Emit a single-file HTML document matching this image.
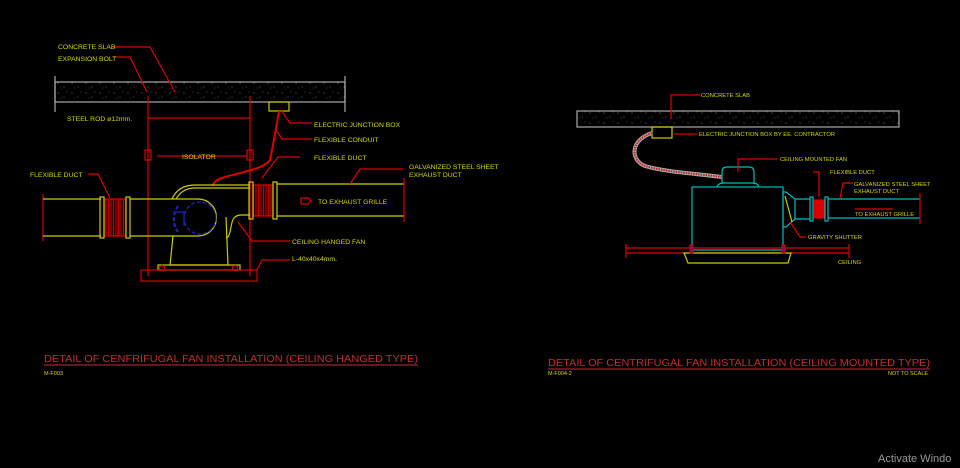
<!DOCTYPE html>
<html><head><meta charset="utf-8"><style>
html,body{margin:0;padding:0;background:#000;}
svg{display:block}
text{font-family:"Liberation Sans",sans-serif;}
</style></head><body>
<svg width="960" height="468" viewBox="0 0 960 468" xmlns="http://www.w3.org/2000/svg">
<defs>
<pattern id="conc" width="14" height="10" patternUnits="userSpaceOnUse">
<rect width="14" height="10" fill="#000"/>
<circle cx="2" cy="3" r="0.5" fill="#aaa"/><circle cx="8" cy="7" r="0.5" fill="#888"/><circle cx="11" cy="2" r="0.4" fill="#bbb"/><circle cx="5" cy="8" r="0.4" fill="#999"/>
</pattern>
<pattern id="flex" width="2.5" height="10" patternUnits="userSpaceOnUse"><rect width="2.5" height="10" fill="#300"/><line x1="1" y1="0" x2="1" y2="10" stroke="#d00" stroke-width="0.8"/></pattern>
</defs>
<g fill="none" stroke-width="1.2">
<!-- LEFT SLAB -->
<rect x="55" y="82" width="290" height="20" fill="url(#conc)" stroke="#aaa"/>
<line x1="55" y1="76" x2="55" y2="112" stroke="#aaa"/><line x1="345" y1="76" x2="345" y2="112" stroke="#aaa"/>
<!-- rods -->
<line x1="148" y1="96" x2="148" y2="276" stroke="#d00"/><line x1="250" y1="96" x2="250" y2="276" stroke="#d00"/>
<rect x="145" y="150" width="6" height="10" stroke="#d00"/><rect x="247" y="150" width="6" height="10" stroke="#d00"/>
<line x1="148" y1="118" x2="250" y2="118" stroke="#d00"/>
<!-- junction box & conduit -->
<rect x="269" y="102" width="20" height="9" stroke="#cc0"/>
<path d="M279 111 C276 130,272 150,270 160 C262 170,240 172,222 178 C215 180,213 184,212 186" stroke="#d00" stroke-width="2"/>
<!-- left duct -->
<line x1="43" y1="194" x2="43" y2="241" stroke="#d00"/>
<path d="M43 199 H101 M43 236 H101" stroke="#cc0"/>
<rect x="104" y="199" width="22" height="37" fill="url(#flex)" stroke="#d00"/>
<rect x="100" y="197" width="4" height="41" stroke="#cc0"/><rect x="126" y="197" width="4" height="41" stroke="#cc0"/>
<path d="M130 199 H198 A18.5 18.5 0 0 1 198 236 H130" stroke="#cc0"/>
<!-- elbow -->
<path d="M172 199 C176 190,184 185,195 185 H250 M176 199 C180 192,186 188,195 188 H250" stroke="#cc0"/>
<path d="M250 215 H240 C232 216,232 222,230 232 C229 236,228 238,226 238" stroke="#cc0"/>
<!-- fan blue -->
<circle cx="200" cy="218" r="16" stroke="#22c" stroke-dasharray="4 2"/>
<path d="M178 206 A22 22 0 0 0 178 232" stroke="#22c" stroke-width="2" stroke-dasharray="4 2"/>
<path d="M176 212 H184 V226" stroke="#22c"/>
<!-- pedestal -->
<path d="M173 236 L170 265 H228 L226 217" stroke="#cc0"/>
<rect x="158" y="265" width="82" height="5" stroke="#cc0"/>
<rect x="141" y="270" width="116" height="11" stroke="#d00"/>
<circle cx="162" cy="268" r="2.5" stroke="#d00"/><circle cx="235" cy="268" r="2.5" stroke="#d00"/>
<!-- right flex & duct -->
<rect x="253" y="185" width="20" height="31" fill="url(#flex)" stroke="#d00"/>
<rect x="249" y="182" width="4" height="37" stroke="#cc0"/><rect x="273" y="182" width="4" height="37" stroke="#cc0"/>
<path d="M277 184 H404 M277 216 H404" stroke="#cc0"/>
<line x1="404" y1="178" x2="404" y2="222" stroke="#d00"/>
<path d="M301 198 H308 L311 201 L308 204 H301 Z" stroke="#d00"/>
<!-- leaders left -->
<g stroke="#d00">
<path d="M113 47 H150 L175 92"/><path d="M113 57 H130 L147 92"/>
<path d="M281 110 L290 123 H312"/><path d="M276 130 L282 139 H312"/>
<path d="M215 156 H181 M215 156 H247"/><path d="M157 156 H181"/>
<path d="M300 157 H278 L262 178"/><path d="M403 169 H360 L350 184"/>
<path d="M88 174 H98 L110 198"/><path d="M290 241 H252 L238 222"/><path d="M290 260 H262 L257 270"/>
</g>
</g>
<g fill="#d8d800" font-size="6.8">
<text x="58" y="49">CONCRETE SLAB</text><text x="58" y="61">EXPANSION BOLT</text>
<text x="67" y="121">STEEL ROD ø12mm.</text>
<text x="314" y="127">ELECTRIC JUNCTION BOX</text><text x="314" y="142">FLEXIBLE CONDUIT</text>
<text x="182" y="159">ISOLATOR</text><text x="314" y="160">FLEXIBLE DUCT</text>
<text x="409" y="169">GALVANIZED STEEL SHEET</text><text x="409" y="177">EXHAUST DUCT</text>
<text x="30" y="177">FLEXIBLE DUCT</text><text x="318" y="204">TO EXHAUST GRILLE</text>
<text x="292" y="244">CEILING HANGED FAN</text><text x="292" y="261">L-40x40x4mm.</text>
</g>
<!-- RIGHT -->
<g fill="none" stroke-width="1.2">
<rect x="577" y="111" width="322" height="16" fill="url(#conc)" stroke="#aaa"/>
<rect x="652" y="127" width="20" height="11" stroke="#cc0"/>
<path d="M652 133 C630 140,630 160,645 166 C665 172,700 174,722 177" stroke="#aaa" stroke-width="4"/>
<path d="M652 133 C630 140,630 160,645 166 C665 172,700 174,722 177" stroke="#b22" stroke-width="2" stroke-dasharray="1.5 1"/>
<path d="M722 183 V172 Q722 167 727 167 H749 Q754 167 754 172 V183" stroke="#0bb"/>
<path d="M717 187 Q718 183 724 183 H752 Q758 183 759 187" stroke="#0bb"/>
<rect x="692" y="187" width="91" height="63" stroke="#0bb"/>
<path d="M783 192 H786 L795 199 V219 L786 227 H783 Z" stroke="#0bb"/>
<line x1="785" y1="196" x2="792" y2="222" stroke="#cc0"/>
<path d="M795 199 H810 M795 219 H810" stroke="#0bb"/>
<rect x="810" y="197" width="3" height="24" stroke="#0bb"/>
<rect x="814" y="200" width="11" height="18" fill="#d00" stroke="#d00"/>
<rect x="825" y="197" width="3" height="24" stroke="#0bb"/>
<path d="M828 199 H920 M828 218 H920" stroke="#0bb"/><line x1="920" y1="193" x2="920" y2="224" stroke="#d00"/>
<path d="M855 209 H893" stroke="#d00"/>
<path d="M626 248 H849 M626 253 H849" stroke="#d00"/>
<path d="M626 244 V258 M849 244 V258" stroke="#d00"/>
<path d="M684 253 H791 L788 263 H688 Z" stroke="#cc0"/>
<rect x="690" y="245" width="3" height="8" fill="#22c" stroke="#d00"/><rect x="782" y="245" width="3" height="8" fill="#22c" stroke="#d00"/>
<g stroke="#d00">
<path d="M700 95 H671 V119"/><path d="M697 134 H674"/><path d="M777 159 H738 V172"/>
<path d="M813 172 H819 V197"/><path d="M853 183 H843 L840 198"/><path d="M806 237 H800 L790 222"/>
</g>
</g>
<g fill="#d8d800" font-size="5.8">
<text x="701" y="97">CONCRETE SLAB</text><text x="699" y="136">ELECTRIC JUNCTION BOX BY EE. CONTRACTOR</text>
<text x="780" y="161">CEILING MOUNTED FAN</text><text x="830" y="174">FLEXIBLE DUCT</text>
<text x="854" y="186">GALVANIZED STEEL SHEET</text><text x="854" y="193">EXHAUST DUCT</text>
<text x="855" y="216">TO EXHAUST GRILLE</text><text x="808" y="239">GRAVITY SHUTTER</text>
<text x="838" y="264">CEILING</text>
</g>
<!-- titles -->
<g fill="#c03030" font-size="10.5">
<text x="44" y="362" textLength="374" lengthAdjust="spacingAndGlyphs">DETAIL OF CENFRIFUGAL FAN INSTALLATION (CEILING HANGED TYPE)</text>
<text x="548" y="366" textLength="382" lengthAdjust="spacingAndGlyphs">DETAIL OF CENTRIFUGAL FAN INSTALLATION (CEILING MOUNTED TYPE)</text>
</g>
<line x1="44" y1="365" x2="418" y2="365" stroke="#c03030"/>
<line x1="548" y1="369" x2="930" y2="369" stroke="#c03030"/>
<g fill="#d8d800" font-size="5.5">
<text x="44" y="375">M-F003</text><text x="548" y="375">M-F004-2</text><text x="888" y="375">NOT TO SCALE</text>
</g>
<text x="878" y="462" fill="#999" font-size="11">Activate Windo</text>
</svg>
</body></html>
